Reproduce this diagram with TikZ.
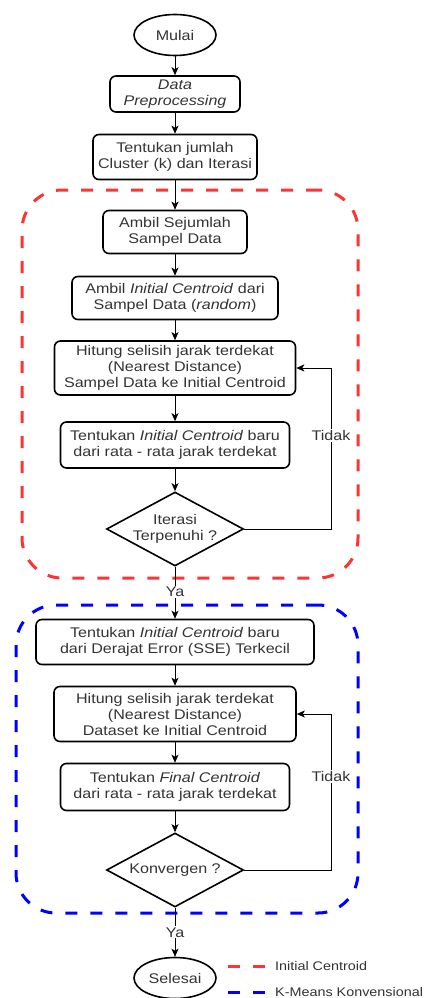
\documentclass[tikz,border=0pt]{standalone}
\usepackage{fontspec}
\setmainfont{Liberation Sans}[FakeStretch=1.15]
\usetikzlibrary{shapes.geometric,arrows.meta}
\definecolor{txt}{HTML}{333333}
\definecolor{fred}{HTML}{FF3333}
\definecolor{fblue}{HTML}{0000FF}
\tikzset{
  base/.style={text=txt, font=\fontsize{14}{16}\selectfont, align=center, inner sep=0pt},
  box/.style={base, draw=black, line width=1.6pt, rounded corners=6pt},
  term/.style={base, draw=black, line width=1.6pt, ellipse, minimum width=82pt, minimum height=41pt},
  dec/.style={draw=black, line width=1.6pt, diamond, inner sep=0pt, minimum width=137pt, minimum height=74pt},
  arr/.style={draw=black, line width=0.9pt, -{Stealth[length=8pt,width=7pt,inset=2pt]}},
  lbl/.style={base, fill=white, inner sep=1pt},
  redframe/.style={draw=fred, line width=3pt, dash pattern=on 12pt off 13pt, rounded corners=40pt, inner sep=0pt},
  blueframe/.style={draw=fblue, line width=3pt, dash pattern=on 12pt off 13pt, rounded corners=40pt, inner sep=0pt},
  legtext/.style={text=txt, font=\fontsize{12.5}{14}\selectfont, anchor=west, inner sep=0pt}
}
\begin{document}
\begin{tikzpicture}[x=1pt,y=-1pt]
\useasboundingbox (0,0) rectangle (425,998);
% frames
\node[redframe, minimum width=336pt, minimum height=388pt] (fr1) at (190,384) {};
\node[blueframe, minimum width=342pt, minimum height=308pt] (fr2) at (187,759) {};
% nodes
\node[term] (mulai) at (175,35) {Mulai};
\node[box, minimum width=130pt, minimum height=36pt] (prep) at (175,94) {\textit{Data}\\\textit{Preprocessing}};
\node[box, minimum width=164pt, minimum height=45pt] (jml) at (175,157) {Tentukan jumlah\\Cluster (k) dan Iterasi};
\node[box, minimum width=144pt, minimum height=43pt] (ambil) at (175,232) {Ambil Sejumlah\\Sampel Data};
\node[box, minimum width=206pt, minimum height=43pt] (init) at (175,298) {Ambil \textit{Initial Centroid} dari\\Sampel Data (\textit{random})};
\node[box, minimum width=241pt, minimum height=54pt] (hit1) at (175,368) {Hitung selisih jarak terdekat\\(Nearest Distance)\\Sampel Data ke Initial Centroid};
\node[box, minimum width=229pt, minimum height=46pt] (baru1) at (175,445) {Tentukan \textit{Initial Centroid} baru\\dari rata - rata jarak terdekat};
\node[dec] (iter) at (175,529) {};
\node[base] (itertxt) at (iter) {Iterasi\\Terpenuhi ?};
\node[box, minimum width=278pt, minimum height=45pt] (baru2) at (175,642) {Tentukan \textit{Initial Centroid} baru\\dari Derajat Error (SSE) Terkecil};
\node[box, minimum width=242pt, minimum height=55pt] (hit2) at (175,714) {Hitung selisih jarak terdekat\\(Nearest Distance)\\Dataset ke Initial Centroid};
\node[box, minimum width=229pt, minimum height=47pt] (final) at (175,787) {Tentukan \textit{Final Centroid}\\dari rata - rata jarak terdekat};
\node[dec] (konv) at (175,870) {};
\node[base] (konvtxt) at (konv) {Konvergen ?};
\node[term] (selesai) at (175,978) {Selesai};
\coordinate (lx) at (331,0);
% connectors
\draw[arr] (mulai) -- (prep);
\draw[arr] (prep) -- (jml);
\draw[arr] (jml) -- (ambil);
\draw[arr] (ambil) -- (init);
\draw[arr] (init) -- (hit1);
\draw[arr] (hit1) -- (baru1);
\draw[arr] (baru1) -- (iter);
\draw[arr] (iter.south) -- node[lbl, pos=0.48] {Ya} (baru2.north);
\draw[arr] (iter.east) -- (iter.east -| lx) -- node[lbl, pos=0.58] {Tidak} (hit1.east -| lx) -- (hit1.east);
\draw[arr] (baru2) -- (hit2);
\draw[arr] (hit2) -- (final);
\draw[arr] (final) -- (konv);
\draw[arr] (konv.east) -- (konv.east -| lx) -- node[lbl, pos=0.6] {Tidak} (hit2.east -| lx) -- (hit2.east);
\draw[arr] (konv.south) -- node[lbl, pos=0.5] {Ya} (selesai.north);
% legend
\coordinate (l1a) at (228,966);
\coordinate (l1b) at (265,966);
\coordinate (l2a) at (228,992);
\coordinate (l2b) at (265,992);
\draw[draw=fred, line width=3pt, dash pattern=on 12pt off 13pt] (l1a) -- (l1b);
\draw[draw=fblue, line width=3pt, dash pattern=on 12pt off 13pt] (l2a) -- (l2b);
\node[legtext] (leg1) at (275,966) {Initial Centroid};
\node[legtext] (leg2) at (275,992) {K-Means Konvensional};
\end{tikzpicture}
\end{document}
